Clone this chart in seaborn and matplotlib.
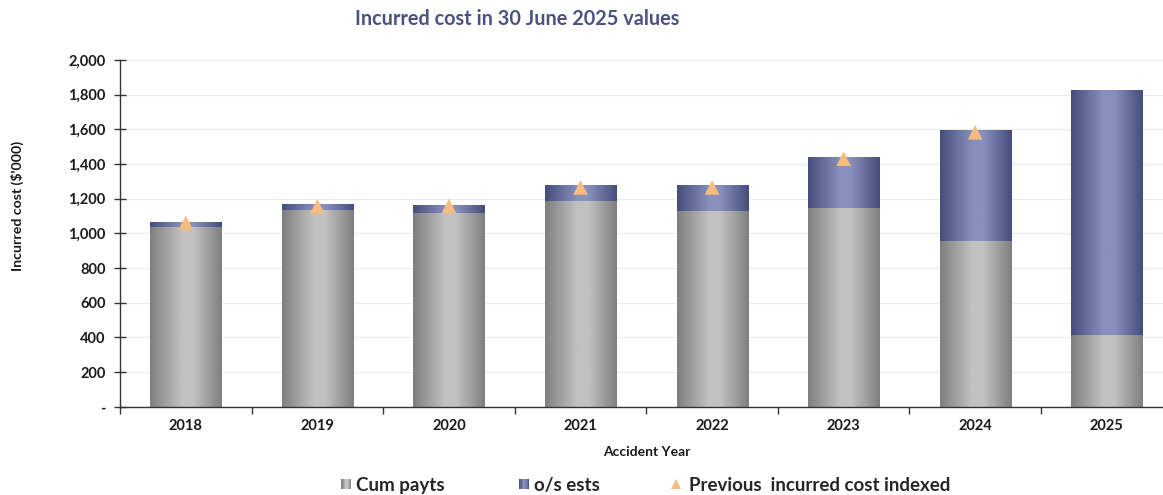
import numpy as np
import pandas as pd
import matplotlib
matplotlib.use("Agg")
import matplotlib.pyplot as plt
import seaborn as sns
from matplotlib.patches import Rectangle
from matplotlib.legend_handler import HandlerBase
from matplotlib.lines import Line2D
from matplotlib.colors import LinearSegmentedColormap

# Values in $'000
years = ["2018", "2019", "2020", "2021", "2022", "2023", "2024", "2025"]
cum_payts = [1039, 1137, 1118, 1189, 1130, 1147, 957, 415]
os_ests = [27, 33, 46, 91, 150, 294, 640, 1412]
prev_incurred = [1062, 1157, 1158, 1265, 1265, 1430, 1583, np.nan]
y_ticks = [0, 200, 400, 600, 800, 1000, 1200, 1400, 1600, 1800, 2000]

GREY_DARK, GREY_LIGHT = "#7f7f7f", "#c2c2c2"
BLUE_DARK, BLUE_LIGHT = "#454d7c", "#8890bd"
TRI = "#f8bb80"
TITLE_C = "#4a5282"
FONT = ["Lato", "DejaVu Sans"]

sns.set_theme(style="white")
plt.rcParams["font.family"] = FONT
plt.rcParams["font.weight"] = "bold"

df = pd.DataFrame({"year": years, "cum": cum_payts, "os": os_ests,
                   "prev": prev_incurred})
df["total"] = df["cum"] + df["os"]

fig = plt.figure(figsize=(11.63, 4.95), dpi=100)
ax = fig.add_axes([0.1032, 0.178, 0.905, 0.701])

sns.barplot(data=df, x="year", y="total", color=BLUE_DARK, width=0.54,
            saturation=1, ax=ax, zorder=2)
sns.barplot(data=df, x="year", y="cum", color=GREY_DARK, width=0.54,
            saturation=1, ax=ax, zorder=2)


def shade_cmap(dark, light):
    return LinearSegmentedColormap.from_list(
        "shade", [(0, dark), (0.45, light), (0.6, light), (1, dark)])


grey_cmap = shade_cmap(GREY_DARK, GREY_LIGHT)
blue_cmap = shade_cmap(BLUE_DARK, BLUE_LIGHT)
grad = np.linspace(0, 1, 256).reshape(1, -1)

n = len(years)
for i, p in enumerate(ax.patches):
    cmap = blue_cmap if i < n else grey_cmap
    x0, y0 = p.get_x(), p.get_y()
    w, h = p.get_width(), p.get_height()
    im = ax.imshow(grad, cmap=cmap, aspect="auto",
                   extent=[x0, x0 + w, y0, y0 + h], zorder=2.5)
    im.set_clip_path(p)
    p.set_alpha(0)

sns.scatterplot(data=df, x="year", y="prev", marker="^", s=110, color=TRI,
                edgecolor="none", ax=ax, zorder=4, legend=False)

ax.set_xlim(-0.5, n - 0.5)
ax.set_ylim(0, 2000)
ax.set_yticks(y_ticks)
ax.set_yticklabels(["-" if v == 0 else f"{v:,}" for v in y_ticks])
ax.yaxis.grid(True, color="#ececec", linewidth=0.9, zorder=0)
ax.set_axisbelow(True)

for s in ["top", "right"]:
    ax.spines[s].set_visible(False)
for s in ["left", "bottom"]:
    ax.spines[s].set_color("#333333")
    ax.spines[s].set_linewidth(1.0)

ax.tick_params(axis="y", direction="inout", length=9, width=1,
               color="#333333", labelsize=10.5, pad=6, left=True)
ax.set_xticks(range(n))
ax.set_xticklabels(years)
ax.set_xticks(np.arange(-0.5, n, 1), minor=True)
ax.tick_params(axis="x", which="major", length=0, labelsize=10.5, pad=9)
ax.tick_params(axis="x", which="minor", direction="out", length=5,
               width=1, color="#333333", bottom=True)
for lab in ax.get_xticklabels() + ax.get_yticklabels():
    lab.set_fontweight("bold")
    lab.set_color("#1a1a1a")

ax.set_xlabel("Accident Year", fontsize=10, fontweight="bold",
              color="#1a1a1a", labelpad=9)
ax.set_ylabel("Incurred cost ($'000)", fontsize=10.2, fontweight="bold",
              color="#1a1a1a")
ax.yaxis.set_label_coords(-0.091, 0.58)

fig.text(0.445, 0.962, "Incurred cost in 30 June 2025 values",
         ha="center", va="center", fontsize=14.3, fontweight="bold",
         color=TITLE_C)


class ShadedBox(HandlerBase):
    def __init__(self, cmap):
        super().__init__()
        self.cmap = cmap

    def create_artists(self, legend, orig_handle, xdescent, ydescent,
                       width, height, fontsize, trans):
        side = height * 0.75
        x0 = width - side
        y0 = (height - side) / 2
        artists = []
        k = 8
        for j in range(k):
            c = self.cmap((j + 0.5) / k)
            r = Rectangle((x0 + j * side / k, y0), side / k, side,
                          facecolor=c, edgecolor="none", transform=trans)
            artists.append(r)
        return artists


h_cum = Rectangle((0, 0), 1, 1)
h_os = Rectangle((0, 0), 1, 1)
h_prev = Line2D([], [], marker="^", linestyle="none", color=TRI,
                markersize=7, markeredgewidth=0)
fig.legend([h_cum, h_os, h_prev],
           ["Cum payts", "o/s ests", "Previous  incurred cost indexed"],
           handler_map={h_cum: ShadedBox(grey_cmap), h_os: ShadedBox(blue_cmap)},
           loc="center", bbox_to_anchor=(0.553, 0.02), ncol=3, frameon=False,
           prop={"family": FONT, "weight": "bold", "size": 13.5},
           handlelength=0.8, handletextpad=0.25, columnspacing=3.7)

fig.savefig("out.png", dpi=100)
